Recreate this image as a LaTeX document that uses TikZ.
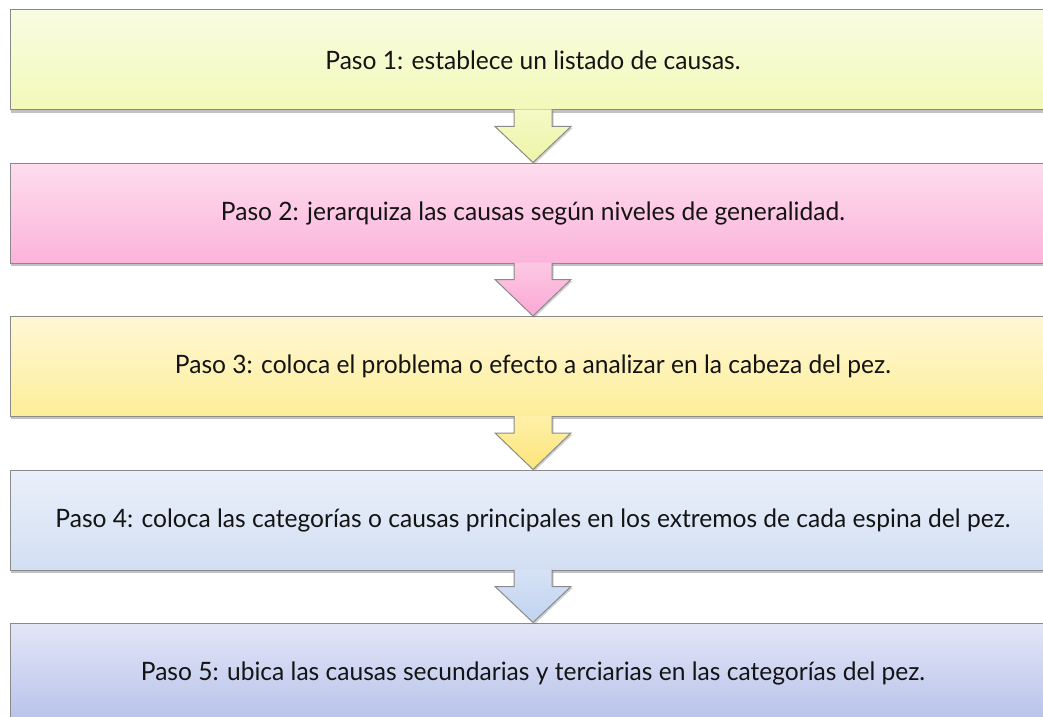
\documentclass[tikz,border=0pt]{standalone}
\usepackage{fontspec}
\setmainfont[FakeStretch=0.97]{Lato}
\usetikzlibrary{calc,shadows}

\definecolor{boxgray}{HTML}{8A8A8A}
\definecolor{textblack}{HTML}{141414}

\begin{document}
\begin{tikzpicture}[
  x=0.75pt, y=-0.75pt,
  step_box/.style={rectangle, draw=boxgray, line width=0.75pt, minimum width=783.75pt, minimum height=75pt, inner sep=0pt, text=textblack, font=\fontsize{19}{22}\selectfont,
    drop shadow={shadow xshift=0pt, shadow yshift=-2pt, opacity=0.4, fill=black!60}},
  step_arrow/.style={draw=boxgray, line width=0.75pt, line join=miter,
    drop shadow={shadow xshift=1.2pt, shadow yshift=-1.2pt, opacity=0.3, fill=black!60}},
]
\useasboundingbox (0,0) rectangle (1043,717);

\node (s1) [step_box, top color={rgb,255:red,249;green,252;blue,226}, bottom color={rgb,255:red,242;green,249;blue,184}] at (533,60) {Paso 1: establece un listado de causas.};
\node (s2) [step_box, top color={rgb,255:red,253;green,221;blue,238}, bottom color={rgb,255:red,252;green,179;blue,218}] at (533,213) {Paso 2: jerarquiza las causas según niveles de generalidad.};
\node (s3) [step_box, top color={rgb,255:red,255;green,247;blue,214}, bottom color={rgb,255:red,253;green,238;blue,152}] at (533,366.5) {Paso 3: coloca el problema o efecto a analizar en la cabeza del pez.};
\node (s4) [step_box, top color={rgb,255:red,234;green,240;blue,250}, bottom color={rgb,255:red,210;green,223;blue,243}] at (533,520) {Paso 4: coloca las categorías o causas principales en los extremos de cada espina del pez.};
\node (s5) [step_box, top color={rgb,255:red,227;green,230;blue,247}, bottom color={rgb,255:red,183;green,194;blue,234}] at (533,673) {Paso 5: ubica las causas secundarias y terciarias en las categorías del pez.};

% block arrows between the steps
\draw [step_arrow, top color={rgb,255:red,244;green,249;blue,198}, bottom color={rgb,255:red,237;green,245;blue,166}]
  ($(s1.south)+(-19,-1)$) -- ($(s1.south)+(-19,16)$) -- ($(s1.south)+(-38,16)$) -- (s2.north)
  -- ($(s1.south)+(38,16)$) -- ($(s1.south)+(19,16)$) -- ($(s1.south)+(19,-1)$);
\draw [step_arrow, top color={rgb,255:red,252;green,200;blue,228}, bottom color={rgb,255:red,251;green,168;blue,212}]
  ($(s2.south)+(-19,-1)$) -- ($(s2.south)+(-19,16)$) -- ($(s2.south)+(-38,16)$) -- (s3.north)
  -- ($(s2.south)+(38,16)$) -- ($(s2.south)+(19,16)$) -- ($(s2.south)+(19,-1)$);
\draw [step_arrow, top color={rgb,255:red,254;green,240;blue,168}, bottom color={rgb,255:red,252;green,229;blue,122}]
  ($(s3.south)+(-19,-1)$) -- ($(s3.south)+(-19,16)$) -- ($(s3.south)+(-38,16)$) -- (s4.north)
  -- ($(s3.south)+(38,16)$) -- ($(s3.south)+(19,16)$) -- ($(s3.south)+(19,-1)$);
\draw [step_arrow, top color={rgb,255:red,214;green,226;blue,245}, bottom color={rgb,255:red,192;green,211;blue,239}]
  ($(s4.south)+(-19,-1)$) -- ($(s4.south)+(-19,16)$) -- ($(s4.south)+(-38,16)$) -- (s5.north)
  -- ($(s4.south)+(38,16)$) -- ($(s4.south)+(19,16)$) -- ($(s4.south)+(19,-1)$);
\end{tikzpicture}
\end{document}
